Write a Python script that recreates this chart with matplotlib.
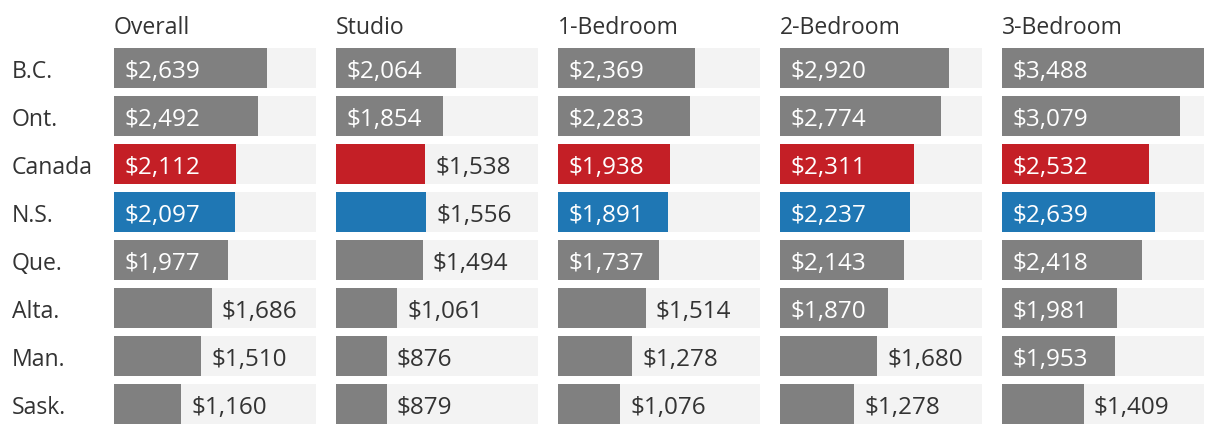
import numpy as np
import matplotlib
matplotlib.use('Agg')
import matplotlib.pyplot as plt

plt.rcParams['font.family'] = ['Open Sans', 'DejaVu Sans']

regions = ['B.C.', 'Ont.', 'Canada', 'N.S.', 'Que.', 'Alta.', 'Man.', 'Sask.']
columns = ['Overall', 'Studio', '1-Bedroom', '2-Bedroom', '3-Bedroom']

overall = [2639, 2492, 2112, 2097, 1977, 1686, 1510, 1160]
studio = [2064, 1854, 1538, 1556, 1494, 1061, 876, 879]
bed1 = [2369, 2283, 1938, 1891, 1737, 1514, 1278, 1076]
bed2 = [2920, 2774, 2311, 2237, 2143, 1870, 1680, 1278]
bed3 = [3488, 3079, 2532, 2639, 2418, 1981, 1953, 1409]
series = [overall, studio, bed1, bed2, bed3]

W, H = 1220, 434
fig = plt.figure(figsize=(W / 100, H / 100), dpi=100)
fig.patch.set_facecolor('white')

vmax = max(max(s) for s in series)
txt = '#333333'

def bar_color(name):
    if name == 'Canada':
        return '#c41f26'
    if name == 'N.S.':
        return '#1f77b4'
    return '#808080'

x0, pw, gap = 114, 202, 20
top, bot = 48, 424
y = np.arange(len(regions))
half = 20 / 48

for j, (col, vals) in enumerate(zip(columns, series)):
    left = x0 + j * (pw + gap)
    ax = fig.add_axes([left / W, (H - bot) / H, pw / W, (bot - top) / H])
    ax.barh(y, [vmax] * len(y), height=40 / 48, color='#f3f3f3', left=0)
    ax.barh(y, vals, height=40 / 48, color=[bar_color(r) for r in regions])
    ax.set_xlim(0, vmax)
    ax.set_ylim(len(y) - 1 + half, -half)
    ax.axis('off')
    for i, v in enumerate(vals):
        lab = '${:,}'.format(v)
        # label goes inside the bar when it fits
        if v >= 1700:
            ax.annotate(lab, (0, i), xytext=(11, -10), textcoords='offset pixels',
                        va='baseline', ha='left', color='white', fontsize=17.5)
        else:
            ax.annotate(lab, (v, i), xytext=(10, -10), textcoords='offset pixels',
                        va='baseline', ha='left', color=txt, fontsize=17.5)
    fig.text(left / W, 1 - 34 / H, col, ha='left', va='baseline',
             color=txt, fontsize=16.6)

for i, r in enumerate(regions):
    yb = 78 + 48 * i
    fig.text(12 / W, 1 - yb / H, r, ha='left', va='baseline', color=txt, fontsize=16.6)

fig.savefig('out.png', dpi=100)
